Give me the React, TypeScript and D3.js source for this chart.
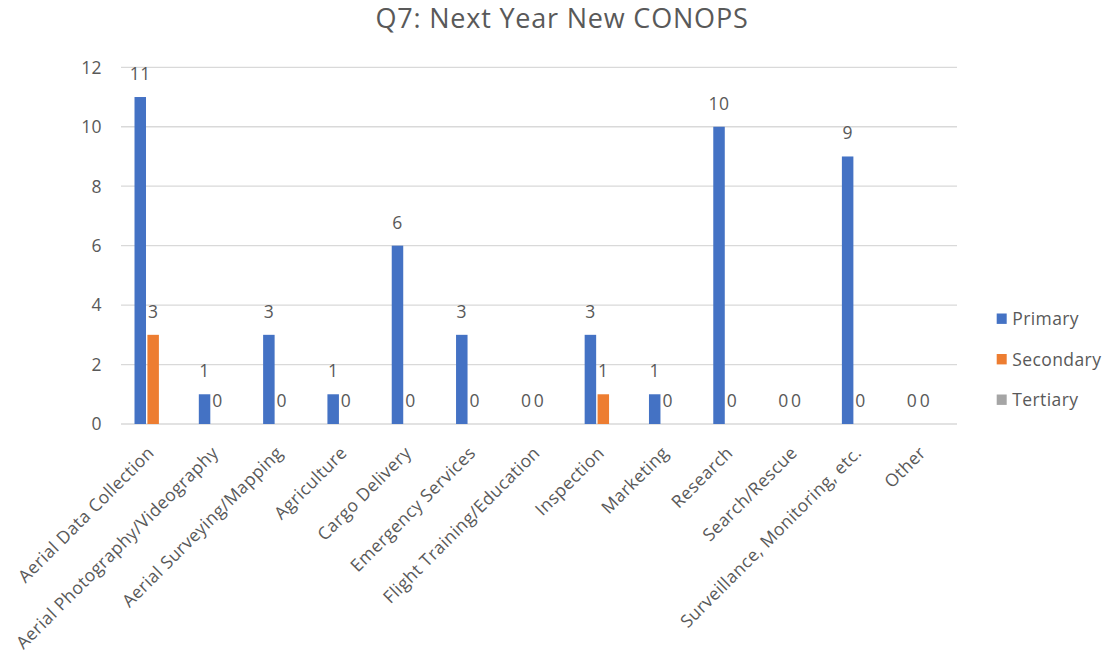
import React from "react";
import * as d3 from "d3";

const categories = [
  "Aerial Data Collection",
  "Aerial Photography/Videography",
  "Aerial Surveying/Mapping",
  "Agriculture",
  "Cargo Delivery",
  "Emergency Services",
  "Flight Training/Education",
  "Inspection",
  "Marketing",
  "Research",
  "Search/Rescue",
  "Surveillance, Monitoring, etc.",
  "Other",
];

const primary: (number | null)[] = [11, 1, 3, 1, 6, 3, 0, 3, 1, 10, 0, 9, 0];
const secondary: (number | null)[] = [3, 0, 0, 0, 0, 0, 0, 1, 0, 0, 0, 0, 0];
const tertiary: (number | null)[] = [null, null, null, null, null, null, null, null, null, null, null, null, null];

const seriesNames = ["Primary", "Secondary", "Tertiary"];
const seriesColors = ["#4472C4", "#ED7D31", "#A5A5A5"];
const yTicks = [0, 2, 4, 6, 8, 10, 12];

const W = 1106;
const H = 659;
const FONT = "'Open Sans', 'Liberation Sans', sans-serif";
const TEXT = "#595959";
const FS = 17.5;
const LS = 0.4;

export default function App() {
  const left = 121;
  const right = 957;
  const top = 67.3;
  const bottom = 424;

  const x = d3.scaleBand<string>().domain(categories).range([left, right]).paddingInner(0).paddingOuter(0);
  const y = d3.scaleLinear().domain([0, 12]).range([bottom, top]);

  const series = [primary, secondary, tertiary];
  const barW = 11.5;
  const step = 12.9;
  const groupW = step * 2 + barW;

  return (
    <svg width={W} height={H} style={{ display: "block", position: "absolute", left: 0, top: 0 }}>
      <rect width={W} height={H} fill="#fff" />
      <text x={562} y={27.5} textAnchor="middle" fontFamily={FONT} fontSize={27} letterSpacing={0.8} fill={TEXT}>
        Q7: Next Year New CONOPS
      </text>

      {yTicks.map((t) => (
        <g key={t}>
          <line x1={left} x2={right} y1={y(t)} y2={y(t)} stroke="#D9D9D9" strokeWidth={1.3} />
          <text x={102} y={y(t)} dy="0.36em" textAnchor="end" fontFamily={FONT} fontSize={FS} letterSpacing={LS} fill={TEXT}>
            {t}
          </text>
        </g>
      ))}

      {categories.map((c, i) => {
        const cx = (x(c) as number) + x.bandwidth() / 2;
        const g0 = cx - groupW / 2;
        return (
          <g key={c}>
            {series.map((s, k) => {
              const v = s[i];
              if (v === null || v === undefined) return null;
              const bx = g0 + k * step;
              return (
                <g key={k}>
                  {v > 0 && (
                    <rect x={bx} y={y(v)} width={barW} height={y(0) - y(v)} fill={seriesColors[k]} />
                  )}
                  <text
                    x={bx + barW / 2}
                    y={y(v) - 17}
                    textAnchor="middle"
                    fontFamily={FONT}
                    fontSize={FS}
                    letterSpacing={LS}
                    fill={TEXT}
                  >
                    {v}
                  </text>
                </g>
              );
            })}
            <text
              transform={`translate(${cx + 2},${454}) rotate(-45)`}
              textAnchor="end"
              fontFamily={FONT}
              fontSize={FS}
              letterSpacing={LS}
              fill={TEXT}
            >
              {c}
            </text>
          </g>
        );
      })}

      {seriesNames.map((n, k) => (
        <g key={n} transform={`translate(996.7,${318.7 + k * 40.5})`}>
          <rect x={0} y={-5.2} width={10} height={10.4} fill={seriesColors[k]} />
          <text x={15.6} y={0} dy="0.36em" fontFamily={FONT} fontSize={FS} letterSpacing={LS} fill={TEXT}>
            {n}
          </text>
        </g>
      ))}
    </svg>
  );
}
